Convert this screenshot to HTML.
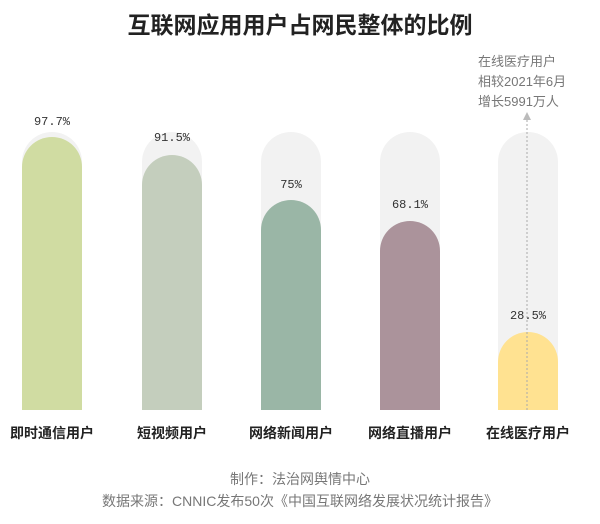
<!DOCTYPE html>
<html><head><meta charset="utf-8"><style>
body{margin:0;width:600px;height:524px;background:#fff;font-family:"Liberation Sans","Noto Sans CJK SC",sans-serif;position:relative;overflow:hidden}
.t{position:absolute;white-space:nowrap}
.bg{position:absolute;top:132px;height:278px;width:60px;background:#f2f2f2;border-radius:30px 30px 0 0}
.b{position:absolute;width:60px;border-radius:30px 30px 0 0;bottom:114px}
.v{position:absolute;width:60px;text-align:center;font-size:12px;color:#333;font-family:"Liberation Mono","Noto Sans CJK SC",monospace}
.c{position:absolute;top:423px;width:120px;text-align:center;font-size:14px;font-weight:bold;color:#222}
</style></head><body>
<div class="t" style="left:0;width:600px;text-align:center;top:6px;font-size:23px;font-weight:bold;color:#222">互联网应用用户占网民整体的比例</div>

<div class="bg" style="left:22px"></div><div class="b" style="left:22px;top:137px;background:#d0dca2"></div>
<div class="bg" style="left:142px"></div><div class="b" style="left:142px;top:155px;background:#c4cebd"></div>
<div class="bg" style="left:261px"></div><div class="b" style="left:261px;top:200px;background:#9ab6a6"></div>
<div class="bg" style="left:380px"></div><div class="b" style="left:380px;top:221px;background:#ab939b"></div>
<div class="bg" style="left:498px"></div><div class="b" style="left:498px;top:332px;background:#ffe291"></div>

<div class="v" style="left:22px;top:115px">97.7%</div>
<div class="v" style="left:142px;top:131px">91.5%</div>
<div class="v" style="left:261px;top:178px">75%</div>
<div class="v" style="left:380px;top:198px">68.1%</div>
<div class="v" style="left:498px;top:309px">28.5%</div>

<svg style="position:absolute;left:0;top:0" width="600" height="524">
<line x1="527" y1="410" x2="527" y2="118" stroke="#aaa" stroke-width="1" stroke-dasharray="2,2"/>
<polygon points="523,120 531,120 527,112" fill="#bbb"/>
</svg>
<div class="t" style="left:478px;top:52px;font-size:13px;color:#777;line-height:20px">在线医疗用户<br>相较2021年6月<br>增长5991万人</div>

<div class="c" style="left:-8px">即时通信用户</div>
<div class="c" style="left:112px">短视频用户</div>
<div class="c" style="left:231px">网络新闻用户</div>
<div class="c" style="left:350px">网络直播用户</div>
<div class="c" style="left:468px">在线医疗用户</div>

<div class="t" style="left:0;width:600px;text-align:center;top:469px;font-size:14px;color:#777">制作：法治网舆情中心</div>
<div class="t" style="left:0;width:600px;text-align:center;top:491px;font-size:14px;color:#777">数据来源：CNNIC发布50次《中国互联网络发展状况统计报告》</div>
</body></html>
